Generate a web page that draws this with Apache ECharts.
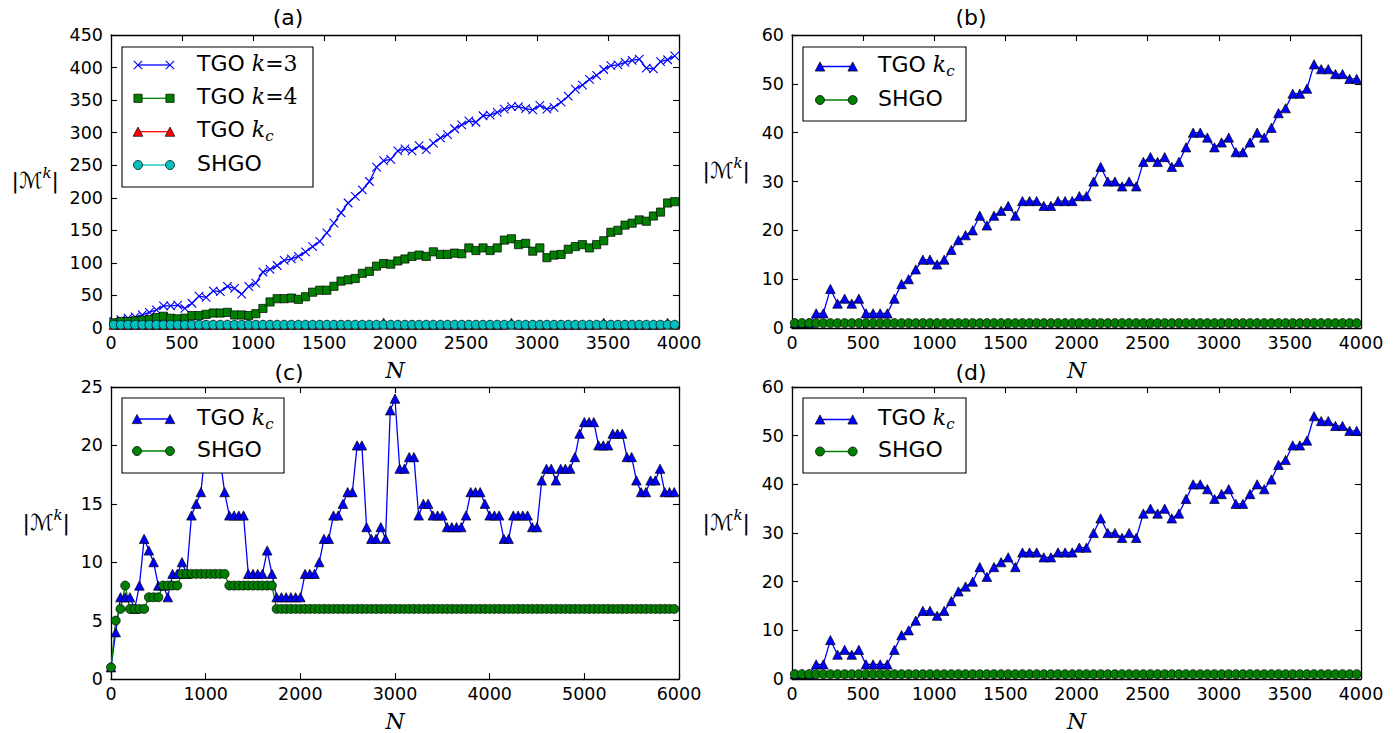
<!DOCTYPE html>
<html>
<head>
<meta charset="utf-8">
<script src="https://cdn.jsdelivr.net/npm/echarts@6/dist/echarts.min.js"></script>
<style>
  html, body { margin: 0; padding: 0; background: #ffffff; }
  #chart { width: 1399px; height: 733px; }
</style>
</head>
<body>
<div id="chart"></div>
<script>
// ---- sample sizes N ----
const nShort = [
  20, 70, 120, 170, 220, 270, 320, 370, 420, 470, 520, 570, 620, 670, 720, 770, 820, 870, 920, 970,
  1020, 1070, 1120, 1170, 1220, 1270, 1320, 1370, 1420, 1470, 1520, 1570, 1620, 1670, 1720, 1770, 1820, 1870, 1920, 1970,
  2020, 2070, 2120, 2170, 2220, 2270, 2320, 2370, 2420, 2470, 2520, 2570, 2620, 2670, 2720, 2770, 2820, 2870, 2920, 2970,
  3020, 3070, 3120, 3170, 3220, 3270, 3320, 3370, 3420, 3470, 3520, 3570, 3620, 3670, 3720, 3770, 3820, 3870, 3920, 3970
];
const nLong = [
  0, 50, 100, 150, 200, 250, 300, 350, 400, 450, 500, 550, 600, 650, 700, 750, 800, 850, 900, 950,
  1000, 1050, 1100, 1150, 1200, 1250, 1300, 1350, 1400, 1450, 1500, 1550, 1600, 1650, 1700, 1750, 1800, 1850, 1900, 1950,
  2000, 2050, 2100, 2150, 2200, 2250, 2300, 2350, 2400, 2450, 2500, 2550, 2600, 2650, 2700, 2750, 2800, 2850, 2900, 2950,
  3000, 3050, 3100, 3150, 3200, 3250, 3300, 3350, 3400, 3450, 3500, 3550, 3600, 3650, 3700, 3750, 3800, 3850, 3900, 3950,
  4000, 4050, 4100, 4150, 4200, 4250, 4300, 4350, 4400, 4450, 4500, 4550, 4600, 4650, 4700, 4750, 4800, 4850, 4900, 4950,
  5000, 5050, 5100, 5150, 5200, 5250, 5300, 5350, 5400, 5450, 5500, 5550, 5600, 5650, 5700, 5750, 5800, 5850, 5900, 5950
];

// ---- panel (a): number of minimisers found ----
const aTgoK3 = [
  10, 13, 15, 17, 20, 24, 28, 34, 34, 35, 30, 38, 49, 47, 57, 56, 64, 61, 52, 64,
  69, 86, 90, 96, 104, 106, 110, 117, 125, 133, 146, 161, 177, 192, 202, 212, 225, 247, 257, 259,
  272, 275, 272, 280, 274, 284, 292, 297, 306, 312, 318, 316, 326, 327, 331, 336, 340, 340, 337, 335,
  342, 336, 339, 347, 356, 367, 373, 382, 388, 397, 403, 404, 408, 411, 413, 399, 398, 409, 412, 418
];
const aTgoK4 = [
  8, 10, 10, 11, 12, 13, 16, 18, 15, 14, 15, 19, 19, 21, 23, 23, 24, 20, 20, 19,
  22, 30, 40, 45, 45, 46, 44, 48, 55, 58, 58, 64, 72, 74, 76, 84, 87, 95, 99, 98,
  103, 106, 110, 112, 110, 117, 113, 113, 115, 114, 123, 119, 123, 119, 123, 135, 137, 128, 130, 118,
  123, 108, 112, 113, 121, 125, 128, 123, 128, 134, 147, 150, 158, 161, 166, 164, 172, 178, 192, 194
];
const aTgoKc = [
  5, 5, 5, 5, 5, 5, 5, 5, 5, 5, 5, 5, 5, 5, 5, 5, 5, 5, 5, 5,
  5, 5, 5, 5, 5, 5, 5, 5, 5, 5, 5, 5, 5, 5, 5, 5, 5, 5, 8, 5,
  5, 5, 5, 5, 5, 5, 5, 5, 5, 5, 5, 5, 5, 5, 5, 5, 8, 5, 5, 5,
  5, 5, 5, 5, 5, 5, 5, 5, 5, 8, 5, 5, 5, 5, 5, 5, 5, 5, 8, 5
];
const aShgo = [
  5, 5, 5, 5, 5, 5, 5, 5, 5, 5, 5, 5, 5, 5, 5, 5, 5, 5, 5, 5,
  5, 5, 5, 5, 5, 5, 5, 5, 5, 5, 5, 5, 5, 5, 5, 5, 5, 5, 5, 5,
  5, 5, 5, 5, 5, 5, 5, 5, 5, 5, 5, 5, 5, 5, 5, 5, 5, 5, 5, 5,
  5, 5, 5, 5, 5, 5, 5, 5, 5, 5, 5, 5, 5, 5, 5, 5, 5, 5, 5, 5
];

// ---- panel (b) ----
const bTgoKc = [
  1, 1, 1, 3, 3, 8, 5, 6, 5, 6, 3, 3, 3, 3, 6, 9, 10, 12, 14, 14,
  13, 14, 16, 18, 19, 20, 23, 21, 23, 24, 25, 23, 26, 26, 26, 25, 25, 26, 26, 26,
  27, 27, 30, 33, 30, 30, 29, 30, 29, 34, 35, 34, 35, 33, 34, 37, 40, 40, 39, 37,
  38, 39, 36, 36, 38, 40, 39, 41, 44, 45, 48, 48, 49, 54, 53, 53, 52, 52, 51, 51
];
const bShgo = [
  1, 1, 1, 1, 1, 1, 1, 1, 1, 1, 1, 1, 1, 1, 1, 1, 1, 1, 1, 1,
  1, 1, 1, 1, 1, 1, 1, 1, 1, 1, 1, 1, 1, 1, 1, 1, 1, 1, 1, 1,
  1, 1, 1, 1, 1, 1, 1, 1, 1, 1, 1, 1, 1, 1, 1, 1, 1, 1, 1, 1,
  1, 1, 1, 1, 1, 1, 1, 1, 1, 1, 1, 1, 1, 1, 1, 1, 1, 1, 1, 1
];

// ---- panel (c) ----
const cTgoKc = [
  1, 4, 7, 7, 7, 6, 8, 12, 11, 10, 8, 8, 7, 9, 9, 10, 9, 14, 15, 16,
  20, 21, 20, 19, 16, 14, 14, 14, 14, 9, 9, 9, 9, 11, 9, 7, 7, 7, 7, 7,
  7, 9, 9, 9, 10, 12, 12, 14, 14, 15, 16, 16, 20, 20, 13, 12, 12, 13, 12, 23,
  24, 18, 18, 19, 19, 14, 15, 15, 14, 14, 14, 13, 13, 13, 13, 14, 16, 16, 16, 15,
  14, 14, 14, 12, 12, 14, 14, 14, 14, 13, 13, 17, 18, 18, 17, 18, 18, 18, 19, 21,
  22, 22, 22, 20, 20, 20, 21, 21, 21, 19, 19, 17, 16, 16, 17, 17, 18, 16, 16, 16
];
const cShgo = [
  1, 5, 6, 8, 6, 6, 6, 6, 7, 7, 7, 8, 8, 8, 8, 9, 9, 9, 9, 9,
  9, 9, 9, 9, 9, 8, 8, 8, 8, 8, 8, 8, 8, 8, 8, 6, 6, 6, 6, 6,
  6, 6, 6, 6, 6, 6, 6, 6, 6, 6, 6, 6, 6, 6, 6, 6, 6, 6, 6, 6,
  6, 6, 6, 6, 6, 6, 6, 6, 6, 6, 6, 6, 6, 6, 6, 6, 6, 6, 6, 6,
  6, 6, 6, 6, 6, 6, 6, 6, 6, 6, 6, 6, 6, 6, 6, 6, 6, 6, 6, 6,
  6, 6, 6, 6, 6, 6, 6, 6, 6, 6, 6, 6, 6, 6, 6, 6, 6, 6, 6, 6
];

// ---- panel (d) ----
const dTgoKc = bTgoKc.slice();
const dShgo = bShgo.slice();

// ---- tick values ----
const xTicksShort = [0, 500, 1000, 1500, 2000, 2500, 3000, 3500, 4000];
const xTicksLong = [0, 1000, 2000, 3000, 4000, 5000, 6000];
const yTicksA = [0, 50, 100, 150, 200, 250, 300, 350, 400, 450];
const yTicksB = [0, 10, 20, 30, 40, 50, 60];
const yTicksC = [0, 5, 10, 15, 20, 25];
const yTicksD = [0, 10, 20, 30, 40, 50, 60];

// ---- styling ----
const BLUE = '#0000ff', GREEN = '#008000', RED = '#ff0000', CYAN = '#00bfbf';
const SANS = 'DejaVu Sans', SERIF = 'DejaVu Serif';
const TICK_FONT = 17.5, BIG_FONT = 22;

const grids = [
  { left: 111, top: 35, width: 568, height: 293 },
  { left: 792, top: 35, width: 569, height: 293 },
  { left: 111, top: 387, width: 568, height: 293 },
  { left: 792, top: 387, width: 569, height: 293 }
];

const yNameGap = [52, 42, 41, 42];
const yNameLift = [2, 22, 22, 22];

const yNameRich = {
  p: { fontFamily: SANS, fontSize: BIG_FONT, lineHeight: 30, color: '#000' },
  m: { fontFamily: SANS, fontSize: BIG_FONT, lineHeight: 30, color: '#000' },
  s: { fontFamily: SERIF, fontStyle: 'italic', fontSize: 15, lineHeight: 16, verticalAlign: 'top', color: '#000' }
};

const frameLine = { show: true, onZero: false, lineStyle: { color: '#000', width: 1.3 } };
const tickStyle = { show: true, inside: true, length: 6, lineStyle: { color: '#000', width: 1.1 } };

function range(ticks) {
  return { min: ticks[0], max: ticks[ticks.length - 1], interval: ticks[1] - ticks[0] };
}
const plainNumber = v => String(v);

const xAxes = [];
const yAxes = [];
const xTickSets = [xTicksShort, xTicksShort, xTicksLong, xTicksShort];
const yTickSets = [yTicksA, yTicksB, yTicksC, yTicksD];

grids.forEach((g, i) => {
  const xr = range(xTickSets[i]);
  const yr = range(yTickSets[i]);
  xAxes.push({
    type: 'value', gridIndex: i, position: 'bottom', ...xr,
    name: 'N', nameLocation: 'middle', nameGap: 31,
    nameTextStyle: { fontFamily: SERIF, fontStyle: 'italic', fontSize: BIG_FONT, color: '#000' },
    axisLine: frameLine, axisTick: tickStyle, splitLine: { show: false },
    axisLabel: { show: true, margin: 6, color: '#000', fontFamily: SANS, fontSize: TICK_FONT, formatter: plainNumber, showMinLabel: true, showMaxLabel: true }
  });
  xAxes.push({
    type: 'value', gridIndex: i, position: 'top', ...xr,
    axisLine: frameLine, axisTick: tickStyle, splitLine: { show: false },
    axisLabel: { show: false }
  });
  yAxes.push({
    type: 'value', gridIndex: i, position: 'left', ...yr,
    name: '{p||}{m|\u2133}{s|k}{p||}', nameLocation: 'middle', nameRotate: 0, nameGap: yNameGap[i],
    nameTextStyle: { align: 'right', verticalAlign: 'middle', padding: [0, 0, yNameLift[i], 0], rich: yNameRich },
    axisLine: frameLine, axisTick: tickStyle, splitLine: { show: false },
    axisLabel: { show: true, margin: 8, color: '#000', fontFamily: SANS, fontSize: TICK_FONT, formatter: plainNumber, showMinLabel: true, showMaxLabel: true }
  });
  yAxes.push({
    type: 'value', gridIndex: i, position: 'right', ...yr,
    axisLine: frameLine, axisTick: tickStyle, splitLine: { show: false },
    axisLabel: { show: false }
  });
});

const X_MARK = 'path://M0,0L10,10M10,0L0,10';

function pairs(ns, vs) {
  return ns.map((n, k) => [n, vs[k]]);
}

function lineSeries(name, panel, ns, vs, color, symbol, size, cross) {
  return {
    type: 'line', name: name,
    xAxisIndex: panel * 2, yAxisIndex: panel * 2,
    data: pairs(ns, vs),
    symbol: symbol, symbolSize: size, showSymbol: true, showAllSymbol: true,
    lineStyle: { color: color, width: 1.3 },
    itemStyle: cross
      ? { color: color, borderColor: color, borderWidth: 1.1 }
      : { color: color, borderColor: '#000', borderWidth: 0.7 },
    emphasis: { disabled: true },
    silent: true, animation: false, clip: true, z: 2
  };
}

const TRI = [9.6, 9.2], CIRC = 9, SQ = 8.2;
const series = [
  lineSeries('TGO k=3', 0, nShort, aTgoK3, BLUE, X_MARK, 8.5, true),
  lineSeries('TGO k=4', 0, nShort, aTgoK4, GREEN, 'rect', SQ, false),
  lineSeries('TGO kc', 0, nShort, aTgoKc, RED, 'triangle', TRI, false),
  lineSeries('SHGO', 0, nShort, aShgo, CYAN, 'circle', CIRC, false),
  lineSeries('TGO kc', 1, nShort, bTgoKc, BLUE, 'triangle', TRI, false),
  lineSeries('SHGO', 1, nShort, bShgo, GREEN, 'circle', CIRC, false),
  lineSeries('TGO kc', 2, nLong, cTgoKc, BLUE, 'triangle', TRI, false),
  lineSeries('SHGO', 2, nLong, cShgo, GREEN, 'circle', CIRC, false),
  lineSeries('TGO kc', 3, nShort, dTgoKc, BLUE, 'triangle', TRI, false),
  lineSeries('SHGO', 3, nShort, dShgo, GREEN, 'circle', CIRC, false)
];

// ---- legend boxes (matplotlib style: line with a marker at each end) ----
const legendRich = {
  r: { fontFamily: SANS, fontSize: BIG_FONT, lineHeight: 28, fill: '#000' },
  m: { fontFamily: SERIF, fontStyle: 'italic', fontSize: BIG_FONT, lineHeight: 28, fill: '#000' },
  n: { fontFamily: SERIF, fontSize: BIG_FONT, lineHeight: 28, fill: '#000' },
  c: { fontFamily: SERIF, fontStyle: 'italic', fontSize: 15, lineHeight: 11, verticalAlign: 'bottom', fill: '#000' }
};

const LZ = 50;
function marker(kind, cx, cy, color) {
  const edge = { stroke: '#000', lineWidth: 0.7 };
  if (kind === 'tri') {
    const w = TRI[0] / 2, h = TRI[1] / 2;
    return [{ type: 'polygon', z: LZ + 2, shape: { points: [[cx, cy - h], [cx - w, cy + h], [cx + w, cy + h]] }, style: { fill: color, ...edge } }];
  }
  if (kind === 'sq') {
    return [{ type: 'rect', z: LZ + 2, shape: { x: cx - SQ / 2, y: cy - SQ / 2, width: SQ, height: SQ }, style: { fill: color, ...edge } }];
  }
  if (kind === 'circ') {
    return [{ type: 'circle', z: LZ + 2, shape: { cx: cx, cy: cy, r: CIRC / 2 }, style: { fill: color, ...edge } }];
  }
  return [
    { type: 'line', z: LZ + 2, shape: { x1: cx - 4.2, y1: cy - 4.2, x2: cx + 4.2, y2: cy + 4.2 }, style: { stroke: color, lineWidth: 1.1 } },
    { type: 'line', z: LZ + 2, shape: { x1: cx + 4.2, y1: cy - 4.2, x2: cx - 4.2, y2: cy + 4.2 }, style: { stroke: color, lineWidth: 1.1 } }
  ];
}

function legendElements(box, rows) {
  const els = [{
    type: 'rect', z: LZ, silent: true, shape: { x: box.x, y: box.y, width: box.w, height: box.h },
    style: { fill: '#fff', stroke: '#000', lineWidth: 1.1 }
  }];
  rows.forEach(r => {
    els.push({ type: 'line', z: LZ + 1, silent: true, shape: { x1: r.x1, y1: r.y, x2: r.x2, y2: r.y }, style: { stroke: r.color, lineWidth: 1.3 } });
    els.push(...marker(r.sym, r.x1, r.y, r.color));
    els.push(...marker(r.sym, r.x2, r.y, r.color));
    els.push({
      type: 'text', z: LZ + 2, silent: true, x: r.tx, y: r.y - 2,
      style: { text: r.label, rich: legendRich, fill: '#000', fontFamily: SANS, fontSize: BIG_FONT, align: 'left', verticalAlign: 'middle' }
    });
  });
  return els;
}

const LBL_K3 = '{r|TGO }{m|k}{n|=3}';
const LBL_K4 = '{r|TGO }{m|k}{n|=4}';
const LBL_KC = '{r|TGO }{m|k}{c|c}';
const LBL_SH = '{r|SHGO}';

const graphics = [].concat(
  legendElements({ x: 122, y: 47, w: 191, h: 140 }, [
    { y: 65, x1: 138, x2: 170, tx: 197, color: BLUE, sym: 'x', label: LBL_K3 },
    { y: 98.3, x1: 138, x2: 170, tx: 197, color: GREEN, sym: 'sq', label: LBL_K4 },
    { y: 131.7, x1: 138, x2: 170, tx: 197, color: RED, sym: 'tri', label: LBL_KC },
    { y: 165, x1: 138, x2: 170, tx: 197, color: CYAN, sym: 'circ', label: LBL_SH }
  ]),
  legendElements({ x: 803, y: 47, w: 163, h: 74 }, [
    { y: 66.5, x1: 820, x2: 852.7, tx: 878, color: BLUE, sym: 'tri', label: LBL_KC },
    { y: 100, x1: 820, x2: 852.7, tx: 878, color: GREEN, sym: 'circ', label: LBL_SH }
  ]),
  legendElements({ x: 122, y: 398, w: 162, h: 75 }, [
    { y: 419, x1: 137, x2: 170, tx: 197, color: BLUE, sym: 'tri', label: LBL_KC },
    { y: 451, x1: 137, x2: 170, tx: 197, color: GREEN, sym: 'circ', label: LBL_SH }
  ]),
  legendElements({ x: 803, y: 398, w: 163, h: 75 }, [
    { y: 419.5, x1: 820, x2: 852.7, tx: 878, color: BLUE, sym: 'tri', label: LBL_KC },
    { y: 451.5, x1: 820, x2: 852.7, tx: 878, color: GREEN, sym: 'circ', label: LBL_SH }
  ])
);

const titleStyle = { fontFamily: SANS, fontSize: BIG_FONT, fontWeight: 'normal', color: '#000' };
const titles = [
  { text: '(a)', left: 288, top: 6, textAlign: 'center', padding: 0, textStyle: titleStyle },
  { text: '(b)', left: 971, top: 6, textAlign: 'center', padding: 0, textStyle: titleStyle },
  { text: '(c)', left: 289, top: 361, textAlign: 'center', padding: 0, textStyle: titleStyle },
  { text: '(d)', left: 971, top: 361, textAlign: 'center', padding: 0, textStyle: titleStyle }
];

const chart = echarts.init(document.getElementById('chart'), null, { renderer: 'svg', width: 1399, height: 733 });
chart.setOption({
  backgroundColor: '#ffffff',
  animation: false,
  title: titles,
  grid: grids.map(g => ({ ...g, containLabel: false, show: false })),
  xAxis: xAxes,
  yAxis: yAxes,
  series: series,
  graphic: { elements: graphics },
  tooltip: { show: false }
});
</script>
</body>
</html>
